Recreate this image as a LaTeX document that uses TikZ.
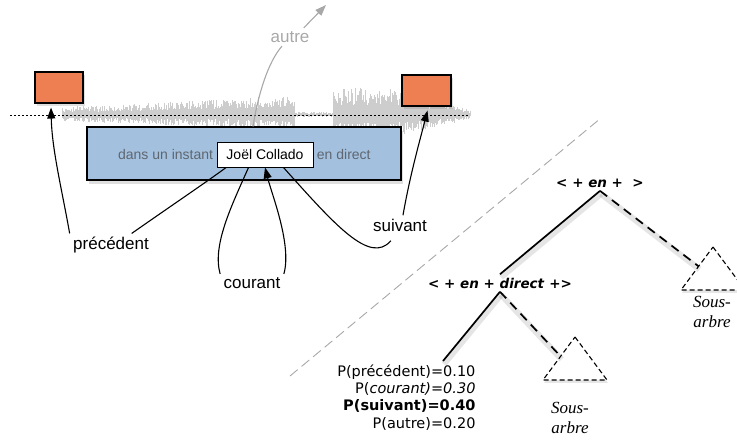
\documentclass[tikz,border=0pt]{standalone}
\usepackage{fontspec}
\setmainfont{Liberation Sans}
\newfontfamily\treefont{DejaVu Sans}
\newfontfamily\serifit{Liberation Serif}
\usepackage{tikz}
\usetikzlibrary{arrows.meta,positioning,calc,shadows}

\definecolor{clipred}{RGB}{238,127,82}
\definecolor{phraseblue}{RGB}{163,193,222}
\definecolor{autregray}{RGB}{168,168,168}
\definecolor{ctxgray}{RGB}{95,102,112}
\definecolor{wavegray}{RGB}{205,205,205}

\begin{document}
\begin{tikzpicture}[x=1pt,y=-1pt,
    >={Triangle[length=11pt,width=8pt]},
    clipbox/.style={rectangle, draw, line width=1.1pt, fill=clipred, minimum width=48pt, minimum height=31pt, drop shadow={opacity=0.25, shadow xshift=2pt, shadow yshift=-3pt}},
    phrase/.style={rectangle, draw, line width=1.1pt, fill=phraseblue, minimum width=314pt, minimum height=53pt, drop shadow={opacity=0.25, shadow xshift=2pt, shadow yshift=-4pt}},
    word/.style={font=\fontsize{14}{16}\selectfont, text=ctxgray},
    wordbox/.style={rectangle, draw, thick, fill=white, inner sep=0pt, minimum width=96pt, minimum height=25pt, font=\fontsize{14}{16}\selectfont},
    tag/.style={font=\fontsize{17}{20}\selectfont},
    link/.style={line width=1.1pt},
    treelab/.style={font=\treefont\bfseries\fontsize{13.5}{16}\selectfont},
    branch/.style={line width=1.7pt, preaction={draw=black, opacity=0.1, line width=6pt, transform canvas={shift={(1pt,-3pt)}}}},
    missing/.style={line width=1.7pt, dash pattern=on 9pt off 6pt, preaction={draw=black, opacity=0.1, line width=6pt, transform canvas={shift={(1pt,-3pt)}}}},
    subtree/.style={draw, line width=1.1pt, dash pattern=on 5pt off 3pt, fill=white, drop shadow={opacity=0.2, shadow xshift=1pt, shadow yshift=-3pt}},
    subname/.style={font=\serifit\itshape\fontsize{17}{20}\selectfont, align=center}]

    \useasboundingbox (0,0) rectangle (737,443);

    % signal
    \pgfmathsetseed{7}
    \foreach \i in {0,...,408}{
        \pgfmathsetmacro{\wx}{62+\i}
        \pgfmathsetmacro{\env}{\wx<295 ? 8+12*(\wx-62)/233 : (\wx<333 ? 3 : (\wx<398 ? 27 : max(4,27-(\wx-398)*0.3)))}
        \pgfmathsetmacro{\up}{\env*(0.35+0.65*rnd)}
        \pgfmathsetmacro{\dn}{0.75*\env*(0.35+0.65*rnd)}
        \draw[wavegray, line width=0.6pt] (\wx,115-\up) -- (\wx,115+\dn);
    }
    \draw[line width=0.8pt, dash pattern=on 1.5pt off 2.5pt] (10,115.5) -- (470,115.5);

    % boxes
    \node[clipbox] (prevbox) at (59,87.5) {};
    \node[clipbox, minimum width=49pt] (nextbox) at (426.5,90.5) {};
    \node[phrase] (phrase) at (244,153.5) {};
    \node[wordbox] (cur) at (265,154.5) {Joël Collado};
    \node[word, left=0pt of cur] (before) {dans un instant};
    \node[word, right=0pt of cur] (after) {en direct};

    % labels
    \node[tag, text=autregray] (autre) at (290,37) {autre};
    \node[tag] (prec) at (111,245) {précédent};
    \node[tag] (cour) at (252,283) {courant};
    \node[tag] (suiv) at (400,225) {suivant};
    \coordinate (autretip) at (326,5);

    \draw[autregray, link] ($(phrase.north)+(9,0)$) .. controls (258,95) and (268,62) .. ($(autre.south)+(-8,0)$);
    \draw[autregray, link, ->] ($(autre.north)!0.6!(autre.north east)$) -- (autretip);

    \draw[link] ($(cur.south west)!0.1!(cur.south east)$) .. controls (205,183) and (168,208) .. ($(prec.north)!0.5!(prec.north east)$);
    \draw[link, ->] (prec.north west) .. controls (62,190) and (52,150) .. ($(prevbox.south)+(-8,4)$);

    \draw[link] ($(cur.south west)!0.33!(cur.south east)$) .. controls (232,205) and (212,245) .. (cour.north west);
    \draw[link, ->] (cour.north east) .. controls (292,245) and (272,195) .. (cur.south);

    \draw[link] ($(cur.south west)!0.69!(cur.south east)$) .. controls (335,225) and (370,265) .. ($(suiv.south west)!0.7!(suiv.south)+(0,6)$);
    \draw[link, ->] ($(suiv.north)+(3,0)$) .. controls (410,175) and (420,140) .. ($(nextbox.south)+(1,4)$);

    \draw[autregray, line width=0.9pt, dash pattern=on 10pt off 5pt] (290,376) -- (601,118);

    % tree
    \draw[subtree] (713,247) coordinate (rtop) -- (745,290) -- (681,290) coordinate (rleft) -- cycle;
    \draw[subtree] (575,337) coordinate (ltop) -- (607,380) -- (543,380) coordinate (lleft) -- cycle;

    \node[treelab] (root) at (600,183) {< + \textit{en} +~~>};
    \node[treelab] (mid) at (500,283) {< + \textit{en} + \textit{direct} +>};
    \node[font=\treefont\fontsize{14.5}{17.3}\selectfont, align=right, anchor=north east] (probs) at (479,361)
        {P(précédent)=0.10\\P(\textit{courant)=0.30}\\\textbf{P(suivant)=0.40}\\P(autre)=0.20};
    \node[subname] (subR) at (712,312) {Sous-\\arbre};
    \node[subname] (subL) at (570,418) {Sous-\\arbre};

    \draw[branch] (root.south) -- (mid.north);
    \draw[missing] (root.south) -- ($(rtop)!0.45!(rleft)$);
    \draw[branch] (mid.south) -- ($(probs.north east)+(-36,0)$);
    \draw[missing] (mid.south) -- ($(ltop)!0.45!(lleft)$);
\end{tikzpicture}
\end{document}
